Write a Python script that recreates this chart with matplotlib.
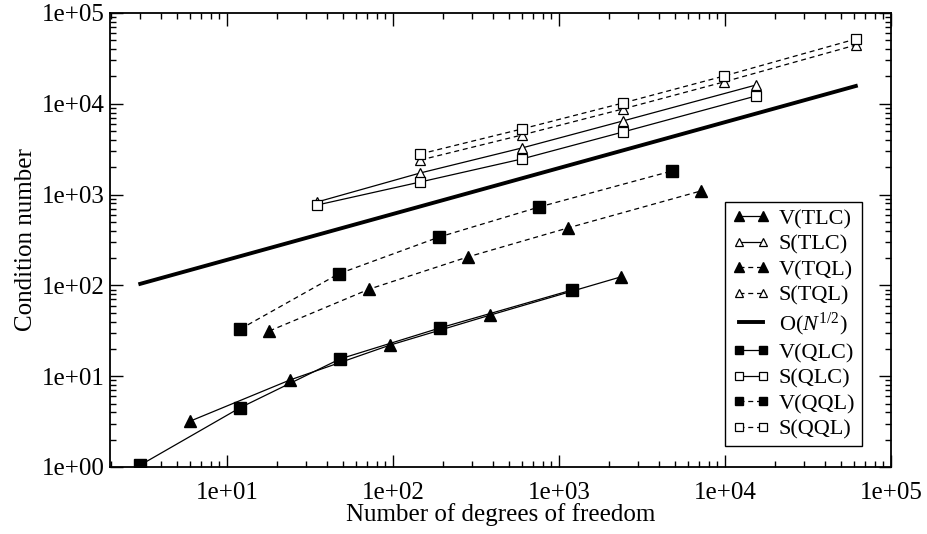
import matplotlib
matplotlib.use('Agg')
import matplotlib.pyplot as plt
from matplotlib.ticker import LogLocator, FuncFormatter, NullFormatter

plt.rcParams['font.family'] = ['Liberation Serif', 'DejaVu Serif']
plt.rcParams['mathtext.fontset'] = 'custom'
plt.rcParams['mathtext.rm'] = 'Liberation Serif'
plt.rcParams['mathtext.it'] = 'Liberation Serif:italic'

# values
n_vtlc = [6, 24, 96, 384, 2360]
c_vtlc = [3.2, 9.1, 22, 47, 124]
n_stlc = [35, 146, 598, 2430, 15400]
c_stlc = [830, 1730, 3260, 6470, 16100]
n_vtql = [18, 72, 283, 1132, 7160]
c_vtql = [31.5, 91, 206, 429, 1096]
n_stql = [146, 598, 2430, 9860, 61500]
c_stql = [2400, 4530, 8770, 17400, 44400]
n_ref = [3, 61500]
c_ref = [104, 15700]
n_vqlc = [3, 12, 48, 192, 1200]
c_vqlc = [1.05, 4.5, 15.5, 34, 89]
n_sqlc = [35, 146, 598, 2430, 15400]
c_sqlc = [768, 1376, 2467, 4890, 12190]
n_vqql = [12, 47, 190, 760, 4800]
c_vqql = [33, 134, 341, 730, 1820]
n_sqql = [146, 598, 2430, 9860, 61500]
c_sqql = [2800, 5280, 10200, 20200, 51700]

fig = plt.figure(figsize=(9.28, 5.34), dpi=100)
ax = fig.add_axes([0.1185, 0.1255, 0.8415, 0.8502])

lw = 0.9
ms_f = 8.5
ms_o = 7.5
ax.plot(n_vtlc, c_vtlc, '-', color='k', lw=lw, marker='^', ms=ms_f, mfc='k', mec='k', label='V(TLC)')
ax.plot(n_stlc, c_stlc, '-', color='k', lw=lw, marker='^', ms=ms_o, mfc='white', mec='k', mew=0.9, label='S(TLC)')
ax.plot(n_vtql, c_vtql, '--', color='k', lw=lw, marker='^', ms=ms_f, mfc='k', mec='k', label='V(TQL)', dashes=(4, 3))
ax.plot(n_stql, c_stql, '--', color='k', lw=lw, marker='^', ms=ms_o, mfc='white', mec='k', mew=0.9, label='S(TQL)', dashes=(4, 3))
ax.plot(n_ref, c_ref, '-', color='k', lw=2.8, label=r'O($N^{1/2}$)')
ax.plot(n_vqlc, c_vqlc, '-', color='k', lw=lw, marker='s', ms=ms_f - 0.3, mfc='k', mec='k', label='V(QLC)')
ax.plot(n_sqlc, c_sqlc, '-', color='k', lw=lw, marker='s', ms=ms_o, mfc='white', mec='k', mew=0.9, label='S(QLC)')
ax.plot(n_vqql, c_vqql, '--', color='k', lw=lw, marker='s', ms=ms_f - 0.3, mfc='k', mec='k', label='V(QQL)', dashes=(4, 3))
ax.plot(n_sqql, c_sqql, '--', color='k', lw=lw, marker='s', ms=ms_o, mfc='white', mec='k', mew=0.9, label='S(QQL)', dashes=(4, 3))

ax.set_xscale('log')
ax.set_yscale('log')
ax.set_xlim(1.97, 1e5)
ax.set_ylim(1, 1e5)

fmt = FuncFormatter(lambda v, p: '%.0e' % v)
for a in (ax.xaxis, ax.yaxis):
    a.set_major_locator(LogLocator(base=10, numticks=10))
    a.set_minor_locator(LogLocator(base=10, subs=range(2, 10), numticks=100))
    a.set_major_formatter(fmt)
    a.set_minor_formatter(NullFormatter())

ax.tick_params(which='both', direction='in', top=True, right=True, width=1.0, labelsize=18)
ax.tick_params(which='major', length=9)
ax.tick_params(which='minor', length=4.5)
ax.tick_params(axis='x', pad=11)
for s in ax.spines.values():
    s.set_linewidth(1.3)

ax.set_xlabel('Number of degrees of freedom', fontsize=18, labelpad=-1)
ax.set_ylabel('Condition number', fontsize=18, labelpad=4)

leg = ax.legend(loc='lower right', bbox_to_anchor=(0.963, 0.046), fontsize=16,
                numpoints=2, markerscale=0.78, handlelength=1.7, handletextpad=0.4,
                labelspacing=0.22, borderpad=0.3, fancybox=False, framealpha=1,
                edgecolor='k', borderaxespad=0)
leg.get_frame().set_linewidth(1.0)

fig.savefig('out.png', dpi=100)
